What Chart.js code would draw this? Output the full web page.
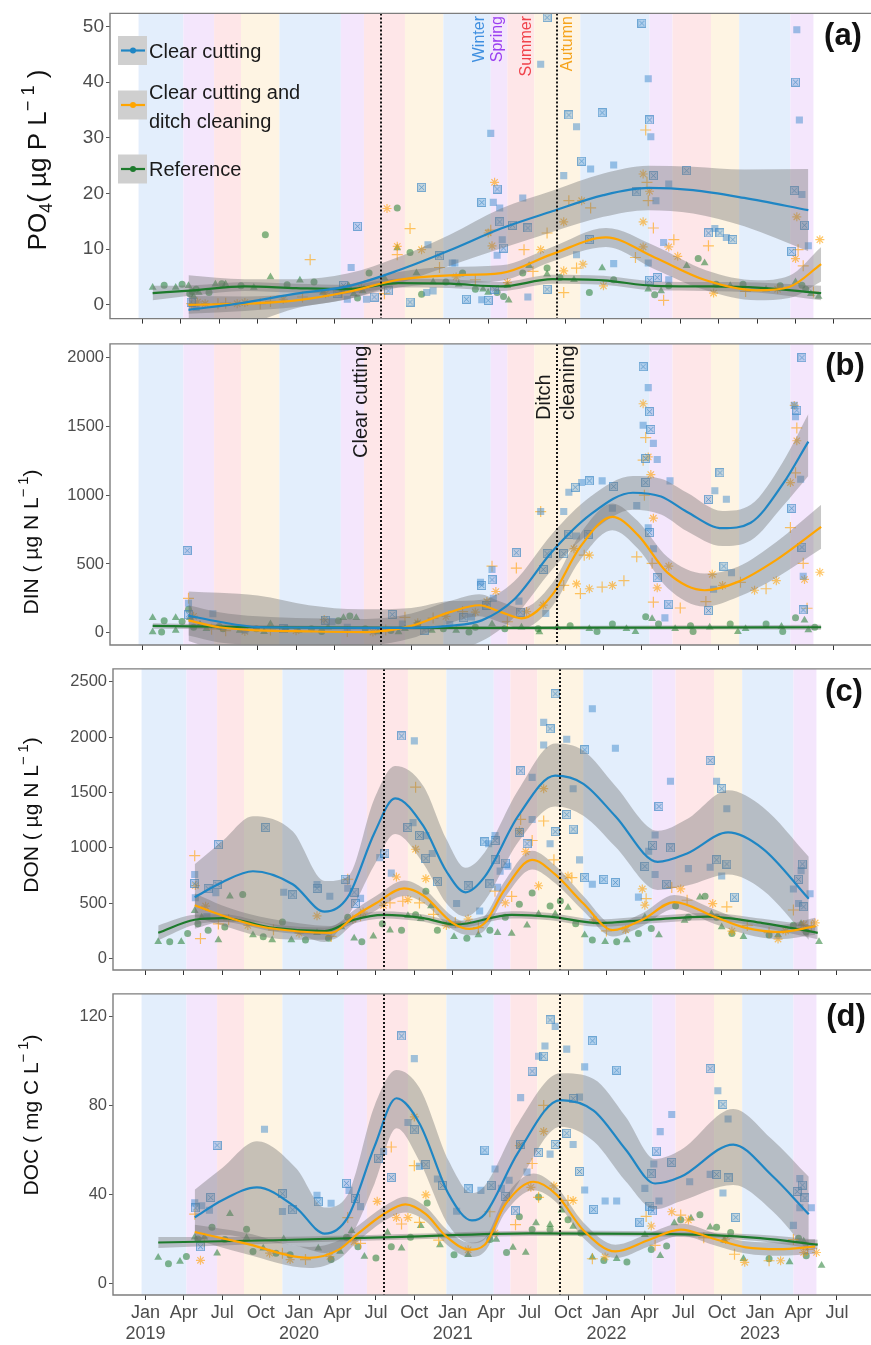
<!DOCTYPE html>
<html>
<head>
<meta charset="utf-8">
<script src="https://cdn.jsdelivr.net/npm/chart.js@4.4.0/dist/chart.umd.min.js"></script>
<style>
html, body { margin: 0; padding: 0; background: #fff; }
#wrap { position: relative; width: 871px; height: 1345px; overflow: hidden; }
canvas { position: absolute; }
</style>
</head>
<body>
<div id="wrap">
  <canvas id="pa" width="871" height="332" style="left:0;top:0"></canvas>
  <canvas id="pb" width="871" height="325" style="left:0;top:332px"></canvas>
  <canvas id="pc" width="871" height="325" style="left:3px;top:657px"></canvas>
  <canvas id="pd" width="871" height="363" style="left:3px;top:982px"></canvas>
</div>
<script>
// x values are months since Jan 2019
const tickMonths = [0, 3, 6, 9, 12, 15, 18, 21, 24, 27, 30, 33, 36, 39, 42, 45, 48, 51, 54];
const tickLabels = ['Jan\n2019', 'Apr', 'Jul', 'Oct', 'Jan\n2020', 'Apr', 'Jul', 'Oct', 'Jan\n2021', 'Apr', 'Jul', 'Oct',
  'Jan\n2022', 'Apr', 'Jul', 'Oct', 'Jan\n2023', 'Apr', 'Jul'];
const seriesNames = ['Clear cutting', 'Clear cutting and ditch cleaning', 'Reference'];
const seasonNames = ['Winter', 'Spring', 'Summer', 'Autumn'];
const seasonLabelMonths = [26.3, 27.7, 30.0, 33.2];
// season band edges, bands cycle winter, spring, summer, autumn
const bandEdges = [-0.3, 3.2, 5.6, 7.7, 10.7, 15.5, 17.3, 20.5, 23.5, 27.2, 28.5, 30.6, 34.2, 39.6, 41.4, 44.4, 46.6, 50.6, 52.4];
const eventMonths = [18.6, 32.4];

// ---- (a) PO4
const aCC_x = [3.6, 8, 12, 16, 20, 24, 28, 32, 36, 39.5, 43, 47, 52];
const aCC_mid = [-0.9, 0.4, 2.0, 3.3, 6.2, 9.8, 13.7, 16.8, 19.7, 21.0, 20.6, 19.2, 17.0];
const aCC_hi = [5.3, 4.6, 4.6, 5.6, 8.6, 12.6, 17.3, 20.5, 23.6, 25.0, 24.8, 24.3, 24.4];
const aCC_lo = [-7.0, -3.8, -0.6, 1.0, 3.8, 7.0, 10.1, 13.1, 15.8, 17.0, 16.4, 14.1, 9.6];
const aCD_x = [3.6, 8, 12, 16, 20, 24, 28, 32, 36.2, 40, 44, 48, 50.5, 53];
const aCD_mid = [0.0, 0.2, 0.8, 2.3, 4.5, 5.3, 5.7, 9.1, 12.1, 8.5, 4.4, 2.6, 3.2, 7.3];
const aCD_hi = [1.6, 1.5, 2.0, 3.6, 5.9, 6.8, 7.1, 10.4, 13.8, 10.6, 6.2, 4.4, 5.2, 10.4];
const aCD_lo = [-1.6, -1.1, -0.4, 1.0, 3.1, 3.8, 4.3, 7.8, 10.4, 6.4, 2.6, 0.8, 1.2, 4.2];
const aRef_x = [0.8, 4, 8, 12, 16, 20, 24, 28, 32, 36, 40, 44, 48, 53];
const aRef_mid = [2.1, 2.6, 3.3, 3.0, 2.8, 3.9, 3.8, 3.3, 4.6, 4.4, 3.4, 3.3, 3.1, 2.1];
const aRef_hi = [3.4, 3.5, 4.1, 3.8, 3.6, 4.7, 4.6, 4.1, 5.4, 5.2, 4.2, 4.1, 4.0, 3.4];
const aRef_lo = [0.8, 1.7, 2.5, 2.2, 2.0, 3.1, 3.0, 2.5, 3.8, 3.6, 2.6, 2.5, 2.2, 0.8];
const aCC_pts = [[16.8,14.1],[16.3,6.7],[21.8,21.1],[22.3,10.8],[23.2,8.8],[24.2,7.5],[26.5,18.4],[27.2,30.8],[25.3,1],[26.5,0.9],
  [20.9,0.5],[22.2,2.2],[15.7,3.5],[16,1],[18.1,1.4],[22.7,2.5],[27.5,2.8],[27.4,18.4],[27.7,20.8],[27.9,17.4],[27.9,14.9],
  [28.1,11.7],[28.2,10.2],[27.7,8.9],[28.9,14.3],[29.7,19.2],[30.1,13.8],[31.1,43.2],[31.6,51.6],[32.9,23.2],[33.3,34.1],
  [33.9,32],[34.3,25.8],[35,24.4],[35.9,34.5],[36.8,25.1],[39,50.6],[39.5,40.6],[39.6,33.2],[39.7,30.2],[39.9,23.2],[40.1,18.7],
  [38.6,20.3],[41.1,21.7],[42.5,24.1],[40.7,11.2],[44.2,12.9],[44.7,13.7],[45.1,12.9],[45.6,12.1],[46.1,11.7],[51.1,49.4],
  [51,40],[51.3,33.2],[50.9,20.5],[51.5,19.8],[51.7,14.3],[52,10.6],[50.7,9.6],[39.5,7.5],[39.6,4.4],[36.8,7.4],[34.9,11.7],
  [33.9,9],[40.2,4.9],[24.4,7.5],[27,0.8],[30.1,1.4],[31.6,2.8],[41.1,4.5],[3.8,0.5],[4.2,-0.5],[15.2,2.0],[17.5,1.0],[19.2,2.5]];
const aCD_pts = [[13.1,8.1],[19.1,17.3],[20.9,13.7],[19.9,10.5],[19.9,9],[21.8,9.9],[23.2,6.7],[27,12.9],[3.85,0.2],[4.9,0.2],
  [5.9,0.2],[7.4,0.2],[9.2,0.2],[11,1],[12.5,1.4],[14.3,2],[15.6,2.2],[17.1,3],[18.9,2],[27.5,22],[27.2,13.4],[27.3,10.6],
  [29.8,9.9],[31.1,9.9],[31.6,12.9],[32.9,14.9],[33.3,18.7],[34.3,18.7],[35,17.4],[32.9,6.1],[33.9,6.6],[34.4,7.3],[39.3,31.4],
  [39.1,23.5],[39.4,22],[39.6,20.4],[39.5,18.7],[39.1,14.9],[39.9,13.8],[39.1,10.4],[41.5,11.7],[41.8,8.7],[38.5,8.5],[41.1,10.4],
  [44.2,10.6],[51.1,15.8],[51.2,9.9],[51,8.3],[51.6,7],[52.9,11.7],[40.7,0.8],[36,3.4],[32.9,2.2],[44.6,2.1],[47.1,2.4],[49.6,2.8],
  [52.4,2.3],[4.3,0.5],[6.5,0.3],[8,0.4],[10,0.6],[24.5,5],[26,4.5],[28.5,4],[30.5,6]];
const aRef_pts = [[0.8,3.1],[1.7,3.5],[2.6,3.1],[3.1,3.7],[3.6,3.4],[3.9,2.4],[4.4,2.2],[5.2,2.2],[5.7,3.7],[6.2,3.8],[6.5,3.7],
  [7.7,3.4],[8.7,3.1],[9.6,12.6],[10,5],[11.3,3.6],[12.3,4.4],[13.4,4.1],[14.1,2.2],[15.6,2.8],[16.1,3.4],[17.7,5.7],[18.9,4.8],
  [19.9,17.4],[19.9,10.2],[20.9,9.4],[21.4,5.7],[21.8,1.9],[22.7,4.1],[23.7,4.1],[24.7,3.7],[26,2.8],[27,2.2],[25,5.7],[26.6,2.8],
  [27.7,2.2],[28.5,3.4],[29.7,5.7],[30.2,7],[31.6,6.6],[31.6,5.5],[32.6,4.9],[33.7,4.5],[34.9,2.2],[35.9,6.6],[36.8,4.5],[39.5,2.8],
  [41.1,3.4],[42.5,7],[43.4,8.3],[43.9,7.5],[44.8,3.7],[45.9,3.4],[46.9,3.7],[48.7,2.8],[49.8,3.4],[51,4.1],[51.8,2.8],[52.8,1.5],
  [3.7,2.0],[4.0,1.5],[4.2,2.8],[16.5,2.0],[16.8,1.2],[17.2,2.5],[28.2,1.5],[28.6,0.8],[40,1.8],[40.5,2.5],[51.5,3.5],[52.2,2.0]];

// ---- (b) DIN
const bCC_x = [3.6, 6, 9, 13, 17, 21, 24, 26.5, 29, 32, 35, 38.3, 40.5, 42.5, 45.3, 47.5, 50, 52];
const bCC_mid = [125, 80, 42, 38, 35, 35, 50, 90, 240, 590, 860, 1018, 990, 880, 760, 800, 1080, 1390];
const bCC_hi = [300, 290, 270, 200, 170, 180, 230, 240, 370, 720, 990, 1140, 1120, 1020, 885, 930, 1240, 1590];
const bCC_lo = [-60, -130, -190, -125, -100, -110, -130, -60, 110, 460, 730, 895, 860, 740, 630, 670, 920, 1140];
const bCD_x = [3.6, 6, 9, 13, 17.5, 21, 24, 26.3, 28, 29.6, 32, 34.2, 36.7, 38.7, 41, 43.9, 46.5, 49.5, 53];
const bCD_mid = [90, 40, 18, 10, 5, 50, 150, 200, 150, 105, 275, 626, 842, 710, 437, 309, 370, 530, 770];
const bCD_hi = [200, 150, 120, 105, 100, 140, 230, 280, 225, 180, 360, 720, 940, 810, 550, 430, 480, 660, 930];
const bCD_lo = [-20, -70, -85, -85, -90, -40, 70, 120, 75, 30, 190, 530, 745, 610, 325, 190, 260, 400, 610];
const bRef_x = [0.8, 10, 20, 30, 40, 53];
const bRef_mid = [50, 40, 35, 35, 38, 40];
const bRef_hi = [70, 55, 48, 48, 52, 58];
const bRef_lo = [30, 25, 22, 22, 24, 22];
const bCC_pts = [[3.5,597],[3.6,215],[3.6,131],[5.5,138],[14.3,91],[14.8,81],[19.5,133],[20.3,63],[25.1,110],[25.7,115],[26.5,344],
  [27.3,460],[27.3,385],[27.4,250],[29.2,582],[29.4,230],[29.5,150],[31.1,881],[31.3,460],[31.5,140],[31.6,575],[32.9,881],
  [32.9,575],[33.3,1022],[33.8,1058],[34.3,1092],[34.9,1104],[35.9,1104],[33.3,716],[33.9,704],[34.8,716],[36.7,905],[36.8,1063],
  [38.6,924],[39.1,1934],[39.5,1782],[39.6,1607],[39.1,1508],[39.7,1478],[39.9,1377],[39.3,1267],[40.2,1260],[39.3,1092],
  [39.5,763],[39.6,728],[39.9,611],[40.2,400],[40.8,108],[41.1,208],[41.2,1104],[44.2,970],[44.7,1032],[45.1,1163],[45.6,970],
  [44.2,161],[44.6,316],[45.4,484],[46,437],[50.7,905],[50.9,1653],[51.1,1618],[51,1571],[51.5,2000],[51.4,1116],[51.5,622],
  [51.6,411],[51.6,166],[26.4,367],[26.9,201],[8,20],[11,30],[16,40],[22,20],[24,60]];
const bCD_pts = [[3.6,250],[4,120],[5.4,26],[14.2,96],[20.5,112],[21.5,72],[22.7,107],[23.7,119],[25,154],[26.9,227],[27.3,484],
  [27.6,300],[29.2,470],[30,154],[31.1,881],[31.3,201],[32.9,344],[33.9,355],[34.2,285],[34.9,320],[35.9,332],[36.7,344],
  [37.6,379],[33.7,611],[34.5,564],[34.9,564],[38.6,552],[39.1,1665],[39.3,1419],[39.5,1278],[39.1,1255],[39.7,1150],[39.2,1000],
  [39.9,833],[39.8,505],[40.2,327],[39.9,222],[41.1,484],[42,180],[44.5,425],[44,227],[45.3,344],[46.7,367],[47.8,309],[48.7,320],
  [49.5,379],[50.6,765],[50.6,1092],[51,1163],[51.1,1396],[51.1,1489],[50.9,1653],[51.6,505],[51.7,388],[51.9,178],[52.9,440],
  [6.5,15],[8,10],[10,20],[12,15],[16,10],[18,5],[19,20],[26,150],[28.5,80]];
const bRef_pts = [[0.8,110],[1.7,87],[2.6,110],[3.1,82],[0.8,5],[1.5,5],[2.6,17],[3.6,170],[3.7,110],[4,40],[5,29],[6.3,29],[7.6,17],
  [8.9,29],[10,64],[11.2,29],[12.2,17],[13.2,29],[14.5,40],[15.3,87],[15.7,110],[16.2,122],[16.7,110],[17.4,29],[18.4,5],[19.4,17],
  [20.5,29],[21.5,64],[22.6,17],[23.5,29],[24.5,17],[25.5,5],[27.3,63],[28.3,29],[29.6,40],[30.9,29],[32.4,40],[33.4,51],[34.9,29],
  [36.7,64],[37.8,29],[39.3,117],[39.8,101],[40.3,64],[41.6,29],[42.8,51],[44.3,40],[45.9,64],[47.1,29],[48.7,64],[49.9,45],
  [51,110],[51.7,91],[52.5,40],[4.5,60],[6,45],[9.5,8],[14,10],[20,5],[26,40],[31,5],[35.5,10],[38.5,8],[43,10],[46.5,8],[50,10],[52,20]];

// ---- (c) DON
const cCC_x = [3.85, 6, 8.4, 11.5, 14, 15.8, 17.9, 19.5, 21.7, 23.5, 25, 26.5, 29.1, 32, 34.2, 36.7, 40, 42.3, 45.5, 48.2, 51.8];
const cCC_mid = [555, 690, 789, 672, 424, 555, 1140, 1447, 1198, 789, 599, 740, 1286, 1652, 1579, 1286, 874, 950, 1140, 994, 540];
const cCC_hi = [853, 1060, 1286, 1150, 700, 740, 1450, 1739, 1560, 1080, 820, 960, 1520, 1944, 1880, 1560, 1154, 1260, 1520, 1370, 921];
const cCC_lo = [270, 330, 330, 240, 150, 380, 850, 1125, 860, 500, 380, 520, 1050, 1374, 1290, 1010, 620, 660, 760, 620, 170];
const cCD_x = [3.85, 6, 8.9, 12, 14.5, 16.3, 18, 20.2, 21.7, 24, 25.3, 26.5, 28, 30.2, 32, 34.2, 36.5, 38.8, 41.3, 44.4, 46.9, 49.5, 52.3];
const cCD_mid = [482, 390, 292, 245, 233, 380, 500, 634, 570, 321, 268, 321, 614, 891, 760, 497, 257, 351, 511, 380, 277, 240, 292];
const cCD_hi = [590, 480, 380, 320, 295, 440, 565, 705, 635, 380, 325, 385, 690, 975, 840, 565, 315, 410, 575, 445, 335, 305, 370];
const cCD_lo = [375, 300, 205, 170, 170, 320, 435, 565, 505, 262, 210, 257, 540, 805, 680, 430, 200, 292, 447, 315, 220, 175, 215];
const cRef_x = [1, 3.85, 6, 10, 14, 16.3, 18.6, 21.7, 24.2, 28.6, 31.6, 35.4, 39.3, 43.9, 48.2, 52.5];
const cRef_mid = [233, 351, 365, 277, 248, 351, 395, 365, 307, 395, 380, 321, 351, 380, 321, 233];
const cRef_hi = [300, 395, 400, 310, 280, 385, 428, 398, 340, 428, 413, 354, 384, 413, 360, 290];
const cRef_lo = [165, 305, 330, 245, 215, 318, 362, 332, 274, 362, 347, 288, 318, 347, 282, 175];
const cCC_pts = [[5.7,1029],[3.85,760],[3.85,678],[3.9,550],[4.9,632],[5.5,596],[5.6,670],[4.8,380],[9.4,1184],[10.8,600],[11.5,576],
  [13.4,670],[13.4,635],[14.4,564],[15.6,717],[15.8,635],[16.3,600],[16.8,544],[16.4,497],[18.3,912],[18.7,953],[19.2,772],[20,2011],
  [21,1967],[20.5,1184],[20.9,1228],[21.4,1111],[21.9,1111],[21.9,906],[22.4,950],[22.8,695],[24.3,497],[25.2,658],[26.1,430],
  [26.5,1054],[27.3,1111],[27.3,1067],[26.8,1038],[27.3,892],[27.7,790],[28.1,863],[28.3,834],[26.9,674],[27.5,644],[29.3,1696],
  [30.2,1637],[29.2,1140],[30.2,1257],[29.8,1038],[31.1,2134],[31.6,2076],[31.1,1930],[32,2392],[31.6,1038],[32,1146],[32.9,1982],
  [32.9,1301],[33.4,1535],[33.4,1170],[33.9,892],[34.3,1886],[34.9,2257],[34.3,731],[34.9,672],[35.8,716],[36.7,1900],[36.7,687],
  [38.5,555],[39,833],[39.3,970],[39.6,1023],[39.8,1117],[40.1,1374],[39.8,760],[40.7,672],[41,1602],[41,1000],[42.4,813],
  [44.1,1789],[44.1,825],[44.6,892],[44.6,1602],[45,1535],[45.4,1354],[45.4,854],[45,746],[46,555],[50.6,628],[51,716],
  [51.2,795],[51.3,854],[51,497],[51.4,468],[51.9,585]];
const cCD_pts = [[3.85,930],[3.9,660],[4.3,181],[4.7,474],[5.7,313],[13.4,386],[15.8,717],[16.2,357],[16.8,386],[18.6,480],
  [19.1,503],[19.6,737],[20.1,518],[20.5,532],[21.1,1549],[21.1,988],[21.4,503],[21.9,722],[24.2,327],[25.2,357],[27.3,609],
  [28.1,503],[28.6,562],[29.2,1155],[29.3,1257],[29.7,966],[30.2,1067],[31.1,1535],[31.1,1243],[30.7,658],[31.9,892],[33,746],
  [33.3,731],[38.8,629],[39.1,541],[39,483],[41.1,643],[41.8,629],[42.3,527],[44.3,497],[45.4,468],[45.8,249],[48.7,235],
  [49.4,176],[50.6,439],[51.4,307],[52,293],[52.3,322],[6.5,350],[8,300],[10,260],[12,230],[14.5,200],[17,420],[22.5,400],
  [23.5,300],[26,280],[35,350],[36,250],[37.5,260],[47,300],[50,250]];
const cRef_pts = [[1,153],[1.9,153],[2.8,153],[3.3,227],[3.85,432],[4.1,315],[4.4,374],[4.9,257],[5.7,169],[6.2,286],[6.6,564],
  [7.6,579],[8.4,213],[9.2,198],[9.9,169],[10.7,330],[11.4,169],[12.5,169],[13.4,233],[14.3,184],[15.3,286],[15.8,374],[16.3,184],
  [16.9,153],[17.8,203],[18.5,315],[19.1,257],[20,257],[20.5,388],[21.1,395],[21.5,359],[21.9,608],[22.3,476],[22.8,257],[24.1,198],
  [25.1,184],[26,213],[26.9,257],[27.5,233],[28.1,374],[28.6,227],[29.2,491],[29.8,301],[30.2,593],[30.7,403],[31.6,476],[32,403],
  [32.4,520],[33,462],[33.6,315],[34.3,213],[34.9,169],[35.9,153],[36.8,153],[37.6,169],[38.5,227],[39,374],[39.5,271],[40.1,213],
  [41.4,476],[42.1,344],[42.4,374],[43.3,555],[43.7,564],[44.2,403],[44.6,374],[45,286],[45.8,227],[46.7,198],[48.7,213],[49.4,213],
  [50.6,301],[51.2,315],[51.6,242],[52.6,153]];

// ---- (d) DOC
const dCC_x = [3.85, 6, 8.7, 11.75, 14, 15.8, 17.9, 19.6, 21.4, 23.7, 25.5, 26.5, 29.1, 32.4, 35, 37.5, 39.8, 41.8, 45.9, 48.9, 51.8];
const dCC_mid = [29.8, 37.5, 43.3, 34.2, 22.5, 29.8, 61.8, 83.3, 72, 40, 28.4, 31.2, 58.9, 82.5, 77.8, 60.3, 45, 48, 62.5, 48.7, 31.2];
const dCC_hi = [42.2, 52, 64, 52, 34.2, 40, 80, 96, 88, 55, 40.7, 44, 72, 94.5, 92, 75, 56, 60, 78.5, 65, 48];
const dCC_lo = [18.9, 22, 19.6, 17, 13.8, 19, 45, 69.8, 55, 26, 18.2, 20, 45, 70.5, 64, 46, 33.4, 37, 44.3, 33, 14];
const dCD_x = [3.85, 7.7, 12.8, 15.1, 16.6, 18.6, 20.3, 21.9, 23.5, 25.3, 26.5, 28.1, 30.3, 32.1, 34.2, 36.7, 39.3, 41.8, 44.3, 46.9, 49.5, 52.3];
const dCD_mid = [23.2, 18.2, 11.6, 15.3, 22.5, 31.2, 35.6, 31.2, 21.1, 15.3, 17.5, 35.6, 45.8, 40, 24, 14.5, 19.6, 24.3, 20.3, 16.3, 15.5, 16.7];
const dCD_hi = [26.5, 23, 16.5, 19.5, 26, 34.5, 39, 34.5, 24.5, 18.5, 20.5, 39, 49.5, 43.5, 27.5, 17.5, 22.5, 27, 23, 19, 18.5, 20];
const dCD_lo = [20, 13.5, 7, 11, 19, 28, 32, 28, 17.7, 12, 14.5, 32, 42, 36.5, 20.5, 11.5, 16.7, 21.5, 17.5, 13.5, 12.5, 13.4];
const dRef_x = [1, 10, 20, 30, 40, 48, 52.5];
const dRef_mid = [18.5, 19.5, 21, 22.6, 22.4, 20.5, 17.5];
const dRef_hi = [21, 21, 22.3, 23.8, 23.6, 22, 19.7];
const dRef_lo = [16, 18, 19.7, 21.4, 21.2, 19, 15.3];
const dCC_pts = [[5.6,62.2],[3.85,36.3],[3.9,34],[4.4,35],[5.1,38.7],[5,33],[4.3,16.6],[9.3,69.4],[10.7,40.4],[10.7,32.4],[11.5,33.2],
  [13.4,39.7],[13.5,36.8],[14.5,36.1],[15.7,45.1],[15.9,41.9],[16.4,38.3],[16.8,34.6],[18.2,56.4],[18.6,59.4],[20,111.3],[21,101.1],
  [19.2,47.7],[20.5,72.4],[21,69.1],[21.4,52.7],[21.9,53.5],[22.8,47],[23.2,44.1],[24.3,32.5],[25.2,42.6],[26.2,41.9],[26.5,60],
  [27.3,51.5],[27,44.2],[27.8,42.8],[28.1,39.2],[28.4,46.5],[28.9,32.7],[29.3,83.6],[30.2,95.5],[29.8,50.1],[29.3,62.5],[30.7,102.2],
  [31.1,102.2],[31.2,106.8],[31.6,118.5],[32,115.6],[30.7,58.9],[31.6,58.2],[32,62.5],[32.9,105.4],[32.9,67.6],[33.4,62.5],[33.4,83.2],
  [33.9,83.8],[33.9,50.4],[34.3,97.4],[34.9,109.1],[34.3,42.1],[35,33.4],[35.9,37.1],[36.8,95.9],[36.8,37.1],[38.6,27.6],[39,42.8],
  [39.5,49.4],[39.7,53.8],[39.9,59.6],[40.2,68.3],[39.4,34.8],[40.1,37.1],[39.6,32.7],[41.1,76],[41.1,54.5],[42.5,45.8],[44.1,96.6],
  [44.1,49.1],[44.6,49.1],[44.7,86.7],[45.1,80.6],[45.5,74],[45.5,47.5],[45.1,40.7],[46.1,29.8],[50.6,26.2],[50.9,41.4],[51.1,47.2],
  [51.3,44.3],[51.1,34.1],[51.5,38.5],[52,34.1]];
const dCD_pts = [[3.85,31.2],[4.3,10.5],[4.6,18.8],[9.7,13.7],[10.7,13.7],[11.3,10.8],[12.5,10.8],[14.4,12.2],[15.8,29.7],[16.3,18.8],
  [16.8,18.1],[18.1,37],[19.2,61.4],[19.6,29.7],[20,26.8],[20.5,29.7],[21,53],[21,74.9],[21.4,27.5],[21.9,39.9],[22.9,19.6],[25.2,15.2],
  [26.9,32.3],[27.3,22.8],[28.9,26.5],[29.2,62],[30.2,54],[30.1,43.3],[31.1,80.1],[31.1,68.4],[30.7,38.8],[31.9,43.9],[33,37.4],
  [33.4,37.4],[34.9,11.2],[35.9,12],[39.1,30.2],[39.5,25.9],[39.8,17.2],[41.1,32.3],[41.8,30.8],[42.4,28.6],[43.6,20.6],[45.3,19.8],
  [46,13.2],[46.8,9.6],[48.7,10.3],[49.6,10.3],[50.6,19.8],[51.4,14],[51.7,15.4],[52.4,14]];
const dRef_pts = [[1,11.8],[1.8,8.9],[2.7,9.9],[3.2,12.2],[3.85,20.9],[4.1,20.1],[4.6,20.9],[5.2,25.3],[5.6,13.7],[6.2,19.8],[6.6,31.4],
  [7.9,24.5],[7.9,20.6],[8.4,14.4],[9.2,15.9],[10.2,13.7],[10.8,20.1],[11.3,13],[13.5,15.9],[14.5,10.8],[15.2,14.4],[15.7,20.9],
  [16.1,23.8],[16.6,16.6],[17.1,12.2],[18,11.5],[18.9,23],[19.2,16.6],[20,15.9],[20.7,20.9],[21.5,26],[22,36.2],[23,17.4],[24.1,13],
  [25.2,13],[26.9,19.8],[27.4,19.8],[28.2,14],[28.7,16.2],[29.2,30.1],[29.7,14],[30.2,24.3],[30.5,27.2],[30.7,38.9],[31.6,26.5],
  [31.6,24.3],[32.5,33],[33,28.7],[33.4,25.7],[34,22.8],[34.9,11.9],[35.8,10.4],[36.8,11.2],[37.6,9.7],[39,22],[39.5,15.4],[40.2,12.5],
  [40.7,16.9],[41.3,27.2],[41.8,28.7],[42.6,29.4],[43.3,31],[44.1,25.3],[44.6,25.3],[45.2,19.5],[45.7,23],[46.7,11.2],[48.7,11.2],
  [50.3,9.7],[51,20.4],[51.4,19],[51.6,12.5],[52.8,8.2]];

// ---- look
const FONT = '"Liberation Sans", Arial, sans-serif';
const colCC = '#1f86c4', colCD = '#ffa500', colRef = '#1d7a2c';
const seasonFill = ['#e3eefc', '#f4e6fc', '#fee6e8', '#fef4e3'];
const seasonText = ['#3f8fe0', '#9a3ff0', '#f0434b', '#f5a31c'];
const RIBBON = 'rgba(115,115,115,0.4)';
const xMin = -2.53, xMax = 56.37;

function boxX() {
  const c = document.createElement('canvas');
  c.width = 9; c.height = 9;
  const g = c.getContext('2d');
  g.fillStyle = 'rgba(90,155,210,0.35)';
  g.fillRect(0.5, 0.5, 8, 8);
  g.strokeStyle = 'rgba(60,135,195,0.65)';
  g.lineWidth = 1;
  g.strokeRect(0.5, 0.5, 8, 8);
  g.beginPath();
  g.moveTo(2, 2); g.lineTo(7, 7); g.moveTo(7, 2); g.lineTo(2, 7);
  g.stroke();
  return c;
}
const boxImg = boxX();

const pairs = (xs, ys) => xs.map((x, i) => ({x: x, y: ys[i]}));
const ptsOf = list => list.map(p => ({x: p[0], y: p[1]}));

function seriesSets(x, mid, lo, hi, pts, color, kind) {
  const sets = [];
  sets.push({type: 'line', data: pairs(x, hi), borderWidth: 0, borderColor: 'rgba(0,0,0,0)', pointRadius: 0,
    fill: '+1', backgroundColor: RIBBON, cubicInterpolationMode: 'monotone', order: 2});
  sets.push({type: 'line', data: pairs(x, lo), borderWidth: 0, borderColor: 'rgba(0,0,0,0)', pointRadius: 0,
    fill: false, cubicInterpolationMode: 'monotone', order: 2});
  sets.push({type: 'line', data: pairs(x, mid), borderColor: color, borderWidth: 2.2, pointRadius: 0,
    fill: false, cubicInterpolationMode: 'monotone', order: 1});
  let pt;
  if (kind === 'cc') {
    pt = {pointStyle: c => c.dataIndex % 2 ? 'rect' : boxImg, pointRadius: 5,
      pointBackgroundColor: 'rgba(65,140,205,0.5)', pointBorderWidth: 0, pointBorderColor: 'rgba(0,0,0,0)'};
  } else if (kind === 'cd') {
    pt = {pointStyle: c => c.dataIndex % 2 ? 'star' : 'cross', pointRadius: c => c.dataIndex % 2 ? 4.5 : 5.5,
      pointBorderColor: 'rgba(255,160,0,0.6)', pointBackgroundColor: 'rgba(255,160,0,0.6)', pointBorderWidth: 1.2};
  } else {
    pt = {pointStyle: c => c.dataIndex % 2 ? 'circle' : 'triangle', pointRadius: c => c.dataIndex % 2 ? 3.5 : 4.5,
      pointBackgroundColor: 'rgba(35,125,50,0.55)', pointBorderWidth: 0, pointBorderColor: 'rgba(0,0,0,0)'};
  }
  sets.push(Object.assign({type: 'line', data: ptsOf(pts), showLine: false, order: 3}, pt));
  return sets;
}

function drawRich(ctx, segs, cx, cy, size) {
  ctx.save();
  ctx.translate(cx, cy);
  ctx.rotate(-Math.PI / 2);
  ctx.textBaseline = 'middle';
  ctx.textAlign = 'left';
  ctx.fillStyle = '#111';
  const fs = k => (k ? size * 0.7 : size) + 'px ' + FONT;
  let total = 0;
  segs.forEach(s => { ctx.font = fs(s[1]); total += ctx.measureText(s[0]).width; });
  let x = -total / 2;
  segs.forEach(s => {
    ctx.font = fs(s[1]);
    const dy = s[1] === 1 ? size * 0.3 : s[1] === 2 ? -size * 0.4 : 0;
    ctx.fillText(s[0], x, dy);
    x += ctx.measureText(s[0]).width;
  });
  ctx.restore();
}

const decor = {
  id: 'decor',
  beforeDatasetsDraw(chart) {
    const {ctx, chartArea: a} = chart;
    const xs = chart.scales.x;
    ctx.save();
    for (let i = 0; i < bandEdges.length - 1; i++) {
      const x0 = xs.getPixelForValue(bandEdges[i]);
      const x1 = xs.getPixelForValue(bandEdges[i + 1]);
      ctx.fillStyle = seasonFill[i % 4];
      ctx.fillRect(x0, a.top, x1 - x0, a.bottom - a.top);
    }
    ctx.restore();
  },
  afterDatasetsDraw(chart, args, o) {
    const {ctx, chartArea: a} = chart;
    const xs = chart.scales.x;
    ctx.save();
    // disturbance dates
    ctx.strokeStyle = '#151515';
    ctx.lineWidth = 2;
    ctx.setLineDash([2, 2]);
    eventMonths.forEach(m => {
      const px = Math.round(xs.getPixelForValue(m));
      ctx.beginPath(); ctx.moveTo(px, a.top); ctx.lineTo(px, a.bottom); ctx.stroke();
    });
    ctx.setLineDash([]);
    // panel frame (right side is cut off in the figure)
    ctx.strokeStyle = '#7d7d7d';
    ctx.lineWidth = 1.4;
    ctx.beginPath();
    ctx.moveTo(chart.width, a.top); ctx.lineTo(a.left, a.top);
    ctx.lineTo(a.left, a.bottom); ctx.lineTo(chart.width, a.bottom);
    ctx.stroke();
    // rotated labels
    (o.vtexts || []).forEach(t => {
      ctx.save();
      ctx.translate(xs.getPixelForValue(t.m), t.y);
      ctx.rotate(-Math.PI / 2);
      ctx.font = t.size + 'px ' + FONT;
      ctx.fillStyle = t.color;
      ctx.textAlign = t.align;
      ctx.textBaseline = 'middle';
      ctx.fillText(t.text, 0, 0);
      ctx.restore();
    });
    // panel letter
    ctx.font = 'bold 31px ' + FONT;
    ctx.fillStyle = '#111';
    ctx.textAlign = 'center';
    ctx.textBaseline = 'middle';
    ctx.fillText(o.letter, o.letterX, o.letterY);
    // y title
    drawRich(ctx, o.ytitle, o.ytX, o.ytY, o.ytSize);
    // legend
    if (o.legend) {
      const cols = [colCC, colCD, colRef];
      o.legend.forEach((k, i) => {
        ctx.fillStyle = '#cfcfcf';
        ctx.fillRect(118, k.y - 14.5, 29, 29);
        ctx.strokeStyle = cols[i];
        ctx.lineWidth = 2.2;
        ctx.beginPath(); ctx.moveTo(121, k.y); ctx.lineTo(145, k.y); ctx.stroke();
        ctx.fillStyle = cols[i];
        ctx.beginPath(); ctx.arc(133, k.y, 3, 0, Math.PI * 2); ctx.fill();
        ctx.fillStyle = '#1a1a1a';
        ctx.font = '20px ' + FONT;
        ctx.textAlign = 'left';
        ctx.textBaseline = 'middle';
        k.lines.forEach((ln, j) => ctx.fillText(ln, 149, k.ly[j]));
      });
    }
    ctx.restore();
  }
};

function panel(id, p) {
  const datasets = [].concat(
    seriesSets(p.cc[0], p.cc[1], p.cc[2], p.cc[3], p.cc[4], colCC, 'cc'),
    seriesSets(p.cd[0], p.cd[1], p.cd[2], p.cd[3], p.cd[4], colCD, 'cd'),
    seriesSets(p.ref[0], p.ref[1], p.ref[2], p.ref[3], p.ref[4], colRef, 'ref')
  );
  return new Chart(document.getElementById(id), {
    type: 'line',
    data: {datasets: datasets},
    options: {
      responsive: false,
      animation: false,
      events: [],
      layout: {padding: {top: p.padTop, left: 0, right: 0, bottom: 0}},
      plugins: {legend: {display: false}, tooltip: {enabled: false}, decor: p.decor},
      scales: {
        x: {
          type: 'linear', min: xMin, max: xMax, bounds: 'data',
          afterBuildTicks: s => { s.ticks = tickMonths.map(v => ({value: v})); },
          afterFit: s => { s.height = p.xHeight; },
          grid: {display: true, drawOnChartArea: false, drawTicks: true, tickLength: 5, color: '#333'},
          border: {display: false},
          ticks: {display: p.xLabels, autoSkip: false, maxRotation: 0, padding: 2, color: '#4d4d4d',
            font: {family: FONT, size: 18}, callback: (v, i) => tickLabels[i].split('\n')}
        },
        y: {
          type: 'linear', min: p.yMin, max: p.yMax, bounds: 'data',
          afterBuildTicks: s => { s.ticks = p.yTicks.map(v => ({value: v})); },
          afterFit: s => { s.width = 110; },
          grid: {display: true, drawOnChartArea: false, drawTicks: true, tickLength: 4, color: '#555'},
          border: {display: false},
          ticks: {color: '#4d4d4d', padding: 2, font: {family: FONT, size: p.tickSize}, callback: v => String(v)}
        }
      }
    },
    plugins: [decor]
  });
}

panel('pa', {
  padTop: 10, xHeight: 12, xLabels: false, yMin: -2.48, yMax: 52.35, yTicks: [0, 10, 20, 30, 40, 50], tickSize: 19,
  cc: [aCC_x, aCC_mid, aCC_lo, aCC_hi, aCC_pts], cd: [aCD_x, aCD_mid, aCD_lo, aCD_hi, aCD_pts],
  ref: [aRef_x, aRef_mid, aRef_lo, aRef_hi, aRef_pts],
  decor: {
    letter: '(a)', letterX: 843, letterY: 36,
    ytitle: [['PO', 0], ['4', 1], ['( µg P L', 0], ['− 1', 2], [' )', 0]], ytX: 39, ytY: 160, ytSize: 26,
    vtexts: seasonNames.map((s, i) => ({text: s, m: seasonLabelMonths[i], y: 16, size: 16, color: seasonText[i], align: 'right'})),
    legend: [
      {y: 50.5, lines: [seriesNames[0]], ly: [52]},
      {y: 105, lines: ['Clear cutting and', 'ditch cleaning'], ly: [93, 122]},
      {y: 169, lines: [seriesNames[2]], ly: [170]}
    ]
  }
});

panel('pb', {
  padTop: 1, xHeight: 12, xLabels: false, yMin: -89, yMax: 2100, yTicks: [0, 500, 1000, 1500, 2000], tickSize: 16.5,
  cc: [bCC_x, bCC_mid, bCC_lo, bCC_hi, bCC_pts], cd: [bCD_x, bCD_mid, bCD_lo, bCD_hi, bCD_pts],
  ref: [bRef_x, bRef_mid, bRef_lo, bRef_hi, bRef_pts],
  decor: {
    letter: '(b)', letterX: 845, letterY: 34,
    ytitle: [['DIN ( µg N L', 0], ['− 1', 2], [')', 0]], ytX: 32, ytY: 210, ytSize: 21,
    vtexts: [
      {text: 'Clear cutting', m: 17.1, y: 126, size: 20, color: '#1a1a1a', align: 'left'},
      {text: 'Ditch', m: 31.4, y: 88, size: 20, color: '#1a1a1a', align: 'left'},
      {text: 'cleaning', m: 33.3, y: 88, size: 20, color: '#1a1a1a', align: 'left'}
    ]
  }
});

panel('pc', {
  padTop: 3, xHeight: 12, xLabels: false, yMin: -103, yMax: 2617, yTicks: [0, 500, 1000, 1500, 2000, 2500], tickSize: 16.5,
  cc: [cCC_x, cCC_mid, cCC_lo, cCC_hi, cCC_pts], cd: [cCD_x, cCD_mid, cCD_lo, cCD_hi, cCD_pts],
  ref: [cRef_x, cRef_mid, cRef_lo, cRef_hi, cRef_pts],
  decor: {
    letter: '(c)', letterX: 841, letterY: 35,
    ytitle: [['DON ( µg N L', 0], ['− 1', 2], [')', 0]], ytX: 29, ytY: 158, ytSize: 21
  }
});

panel('pd', {
  padTop: 3, xHeight: 50, xLabels: true, yMin: -5.1, yMax: 130.2, yTicks: [0, 40, 80, 120], tickSize: 16.5,
  cc: [dCC_x, dCC_mid, dCC_lo, dCC_hi, dCC_pts], cd: [dCD_x, dCD_mid, dCD_lo, dCD_hi, dCD_pts],
  ref: [dRef_x, dRef_mid, dRef_lo, dRef_hi, dRef_pts],
  decor: {
    letter: '(d)', letterX: 843, letterY: 35,
    ytitle: [['DOC ( mg C L', 0], ['− 1', 2], [')', 0]], ytX: 29, ytY: 133, ytSize: 21
  }
});
</script>
</body>
</html>
